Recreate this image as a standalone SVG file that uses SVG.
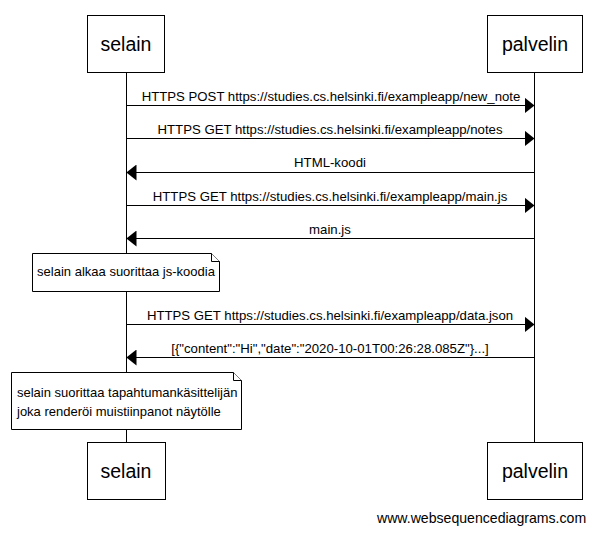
<svg xmlns="http://www.w3.org/2000/svg" width="596" height="534" viewBox="0 0 596 534">
  <style>
    .box { fill: #ffffff; stroke: #000000; stroke-width: 1; }
    .life { stroke: #000000; stroke-width: 1; }
    .msg { stroke: #000000; stroke-width: 1; fill: none; }
    .actor { font-family: "Liberation Sans", Arial, sans-serif; font-size: 19.5px; fill: #000000; text-anchor: middle; }
    .lbl { font-family: "Liberation Sans", Arial, sans-serif; font-size: 13.2px; fill: #000000; text-anchor: middle; }
    .note { font-family: "Liberation Sans", Arial, sans-serif; font-size: 13px; fill: #000000; }
    .wm { font-family: "Liberation Sans", Arial, sans-serif; font-size: 14.1px; fill: #000000; }
  </style>
  <defs>
    <marker id="head" viewBox="0 0 10 16" refX="10" refY="8" markerWidth="10" markerHeight="16" markerUnits="userSpaceOnUse" orient="auto">
      <path d="M0,0 L10,8 L0,16 Z" fill="#000000"/>
    </marker>
  </defs>
  <rect width="596" height="534" fill="#ffffff"/>

  <!-- lifelines -->
  <g id="lifelines">
    <line class="life" x1="126.5" y1="72" x2="126.5" y2="442"/>
    <line class="life" x1="534.5" y1="72" x2="534.5" y2="442"/>
  </g>

  <g id="selain-top">
    <rect class="box" x="87.5" y="15.5" width="77" height="57"/>
    <text class="actor" x="126" y="51">selain</text>
  </g>
  <g id="palvelin-top">
    <rect class="box" x="487.5" y="15.5" width="95" height="57"/>
    <text class="actor" x="535" y="51">palvelin</text>
  </g>

  <!-- messages -->
  <g id="connectors">
    <line class="msg" x1="126.5" y1="105.5" x2="534.5" y2="105.5" marker-end="url(#head)"/>
    <text class="lbl" x="331" y="101">HTTPS POST https://studies.cs.helsinki.fi/exampleapp/new_note</text>

    <line class="msg" x1="126.5" y1="138.5" x2="534.5" y2="138.5" marker-end="url(#head)"/>
    <text class="lbl" x="330" y="134">HTTPS GET https://studies.cs.helsinki.fi/exampleapp/notes</text>

    <line class="msg" x1="534.5" y1="172.5" x2="126.5" y2="172.5" marker-end="url(#head)"/>
    <text class="lbl" x="330" y="167">HTML-koodi</text>

    <line class="msg" x1="126.5" y1="205.5" x2="534.5" y2="205.5" marker-end="url(#head)"/>
    <text class="lbl" x="330" y="201">HTTPS GET https://studies.cs.helsinki.fi/exampleapp/main.js</text>

    <line class="msg" x1="534.5" y1="238.5" x2="126.5" y2="238.5" marker-end="url(#head)"/>
    <text class="lbl" x="330" y="234">main.js</text>

    <line class="msg" x1="126.5" y1="324.5" x2="534.5" y2="324.5" marker-end="url(#head)"/>
    <text class="lbl" x="330" y="320">HTTPS GET https://studies.cs.helsinki.fi/exampleapp/data.json</text>

    <line class="msg" x1="534.5" y1="357.5" x2="126.5" y2="357.5" marker-end="url(#head)"/>
    <text class="lbl" x="330" y="353">[{"content":"Hi","date":"2020-10-01T00:26:28.085Z"}...]</text>
  </g>

  <g id="note-js">
    <path class="box" d="M32.5,253.5 H211.5 L219.5,261.5 V291.5 H32.5 Z"/>
    <path class="box" d="M211.5,253.5 V261.5 H219.5" fill="none"/>
    <text class="note" x="126" y="276" text-anchor="middle">selain alkaa suorittaa js-koodia</text>
  </g>

  <g id="note-render">
    <path class="box" d="M11.5,372.5 H233.5 L241.5,380.5 V429.5 H11.5 Z"/>
    <path class="box" d="M233.5,372.5 V380.5 H241.5" fill="none"/>
    <text class="note" x="17" y="397">selain suorittaa tapahtumankäsittelijän</text>
    <text class="note" x="17" y="416">joka renderöi muistiinpanot näytölle</text>
  </g>

  <g id="selain-bottom">
    <rect class="box" x="87.5" y="442.5" width="78" height="57"/>
    <text class="actor" x="126" y="478">selain</text>
  </g>
  <g id="palvelin-bottom">
    <rect class="box" x="487.5" y="442.5" width="95" height="57"/>
    <text class="actor" x="535" y="478">palvelin</text>
  </g>

  <text class="wm" x="377" y="523">www.websequencediagrams.com</text>
</svg>
